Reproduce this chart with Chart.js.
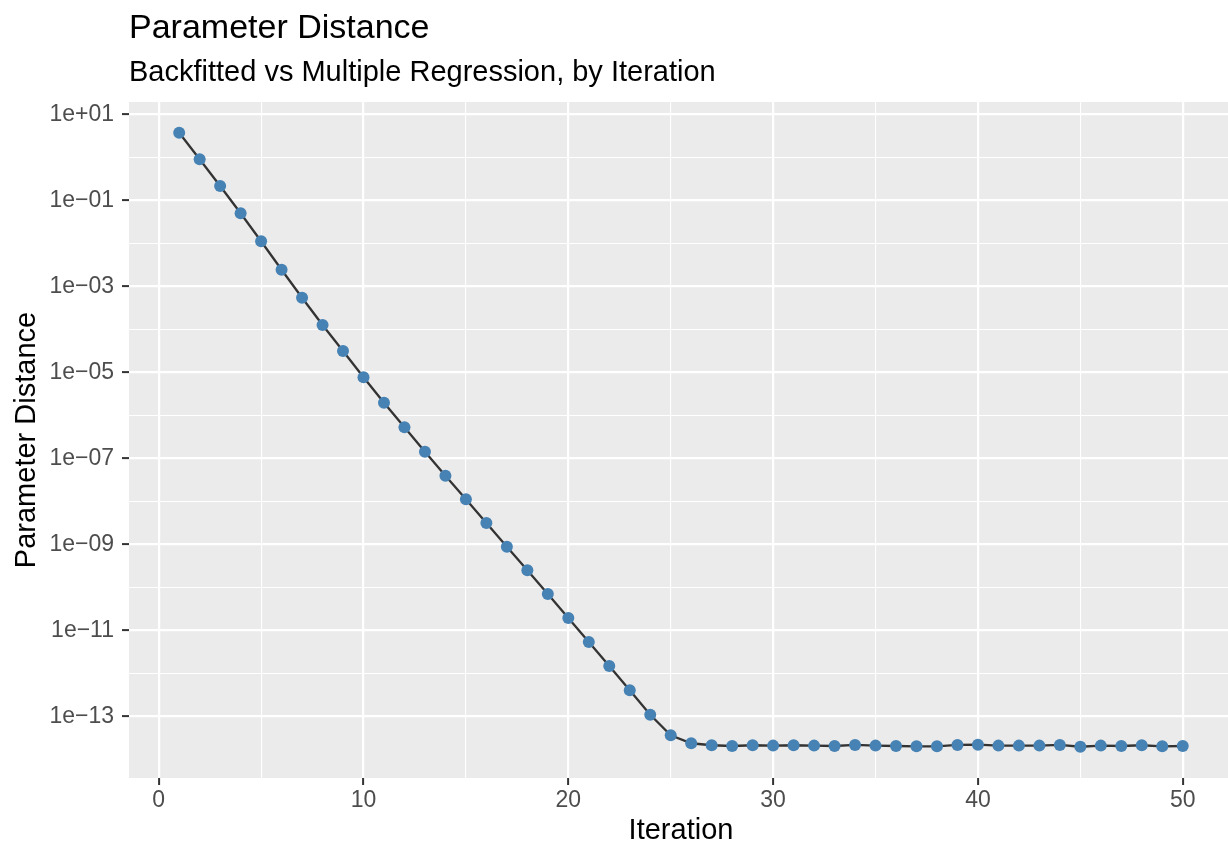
<!DOCTYPE html>
<html>
<head>
<meta charset="utf-8">
<script src="https://cdn.jsdelivr.net/npm/chart.js@4/dist/chart.umd.min.js"></script>
<style>
  html, body { margin: 0; padding: 0; background: #ffffff; }
  #wrap { width: 1228px; height: 844px; position: relative; }
</style>
</head>
<body>
<div id="wrap"><canvas id="chart" width="1228" height="844"></canvas></div>
<script>
// Iteration number and distance between backfitted and multiple-regression estimates
const iterations = [
  1, 2, 3, 4, 5, 6, 7, 8, 9, 10,
  11, 12, 13, 14, 15, 16, 17, 18, 19, 20,
  21, 22, 23, 24, 25, 26, 27, 28, 29, 30,
  31, 32, 33, 34, 35, 36, 37, 38, 39, 40,
  41, 42, 43, 44, 45, 46, 47, 48, 49, 50
];
const paramDistance = [
  3.73, 0.898, 0.215, 0.0499, 0.01114, 2.43e-3, 5.43e-4, 1.26e-4, 3.13e-5, 7.66e-6,
  1.96e-6, 5.26e-7, 1.42e-7, 3.94e-8, 1.11e-8, 3.13e-9, 8.79e-10, 2.48e-10, 6.98e-11, 1.93e-11,
  5.35e-12, 1.48e-12, 4.03e-13, 1.09e-13, 3.61e-14, 2.36e-14, 2.12e-14, 2.04e-14, 2.12e-14, 2.08e-14,
  2.12e-14, 2.08e-14, 2.04e-14, 2.16e-14, 2.08e-14, 2.04e-14, 2.00e-14, 2.00e-14, 2.16e-14, 2.19e-14,
  2.08e-14, 2.08e-14, 2.08e-14, 2.16e-14, 1.96e-14, 2.08e-14, 2.04e-14, 2.12e-14, 2.00e-14, 2.04e-14
];

// Axis breaks
const xBreaks = [0, 5, 10, 15, 20, 25, 30, 35, 40, 45, 50];
const xLabelled = [0, 10, 20, 30, 40, 50];
const yExponents = [1, 0, -1, -2, -3, -4, -5, -6, -7, -8, -9, -10, -11, -12, -13];
const yLabelledExponents = [1, -1, -3, -5, -7, -9, -11, -13];

const titleText = 'Parameter Distance';
const subtitleText = 'Backfitted vs Multiple Regression, by Iteration';
const xTitle = 'Iteration';
const yTitle = 'Parameter Distance';

const FONT = '"Liberation Sans", Arial, Helvetica, sans-serif';

function sciLabel(e) {
  const sign = e >= 0 ? '+' : '\u2212';
  const a = Math.abs(e);
  return '1e' + sign + (a < 10 ? '0' + a : String(a));
}
function expOf(v) { return Math.round(Math.log10(v)); }
function yIsMajor(v) { return yLabelledExponents.includes(expOf(v)); }
function xIsMajor(v) { return xLabelled.includes(v); }

const points = iterations.map((it, i) => ({ x: it, y: paramDistance[i] }));

// Grey panel, titles and axis titles
const decorations = {
  id: 'decorations',
  beforeDraw(chart) {
    const { ctx, chartArea } = chart;
    ctx.save();
    ctx.fillStyle = '#ffffff';
    ctx.fillRect(0, 0, chart.width, chart.height);
    ctx.fillStyle = '#EBEBEB';
    ctx.fillRect(chartArea.left, chartArea.top, chartArea.right - chartArea.left, chartArea.bottom - chartArea.top);
    ctx.restore();
  },
  afterDraw(chart) {
    const { ctx, chartArea } = chart;
    ctx.save();
    ctx.fillStyle = '#000000';
    ctx.textAlign = 'left';
    ctx.textBaseline = 'alphabetic';
    ctx.font = '34px ' + FONT;
    ctx.fillText(titleText, chartArea.left, 38);
    ctx.font = '29px ' + FONT;
    ctx.fillText(subtitleText, chartArea.left, 81);

    ctx.textAlign = 'center';
    ctx.fillText(xTitle, 681, 839);

    ctx.translate(35, (chartArea.top + chartArea.bottom) / 2);
    ctx.rotate(-Math.PI / 2);
    ctx.fillText(yTitle, 0, 0);
    ctx.restore();
  }
};

new Chart(document.getElementById('chart'), {
  type: 'line',
  data: {
    datasets: [{
      data: points,
      borderColor: '#333333',
      borderWidth: 2.3,
      pointBackgroundColor: '#4682B4',
      pointBorderColor: '#4682B4',
      pointBorderWidth: 0,
      pointRadius: 6,
      pointHoverRadius: 6,
      tension: 0,
      fill: false
    }]
  },
  options: {
    responsive: false,
    animation: false,
    events: [],
    layout: { autoPadding: false, padding: { top: 102, left: 0, right: 0, bottom: 0 } },
    plugins: {
      legend: { display: false },
      title: { display: false },
      tooltip: { enabled: false }
    },
    scales: {
      x: {
        type: 'linear',
        min: -1.45,
        max: 52.21,
        afterBuildTicks(scale) { scale.ticks = xBreaks.map(v => ({ value: v })); },
        afterFit(scale) {
          scale.height = 66;
          scale.paddingLeft = 0;
          scale.paddingRight = 0;
        },
        border: { display: false },
        grid: {
          color: '#ffffff',
          lineWidth: ctx => (ctx.tick && xIsMajor(ctx.tick.value)) ? 2.2 : 1.1,
          drawTicks: true,
          tickLength: 7,
          tickWidth: 2,
          tickColor: ctx => (ctx.tick && xIsMajor(ctx.tick.value)) ? '#333333' : 'rgba(0,0,0,0)'
        },
        ticks: {
          autoSkip: false,
          maxRotation: 0,
          padding: 2,
          color: '#4D4D4D',
          font: { family: FONT, size: 23 },
          callback: v => xIsMajor(v) ? String(v) : ''
        }
      },
      y: {
        type: 'logarithmic',
        min: Math.pow(10, -14.435),
        max: Math.pow(10, 1.286),
        afterBuildTicks(scale) { scale.ticks = yExponents.map(e => ({ value: Math.pow(10, e) })); },
        afterFit(scale) {
          scale.width = 129;
          scale.paddingTop = 0;
          scale.paddingBottom = 0;
        },
        border: { display: false },
        grid: {
          color: '#ffffff',
          lineWidth: ctx => (ctx.tick && yIsMajor(ctx.tick.value)) ? 2.2 : 1.1,
          drawTicks: true,
          tickLength: 7,
          tickWidth: 2,
          tickColor: ctx => (ctx.tick && yIsMajor(ctx.tick.value)) ? '#333333' : 'rgba(0,0,0,0)'
        },
        ticks: {
          autoSkip: false,
          padding: 8,
          color: '#4D4D4D',
          font: { family: FONT, size: 23 },
          callback: v => yIsMajor(v) ? sciLabel(expOf(v)) : ''
        }
      }
    }
  },
  plugins: [decorations]
});
</script>
</body>
</html>
